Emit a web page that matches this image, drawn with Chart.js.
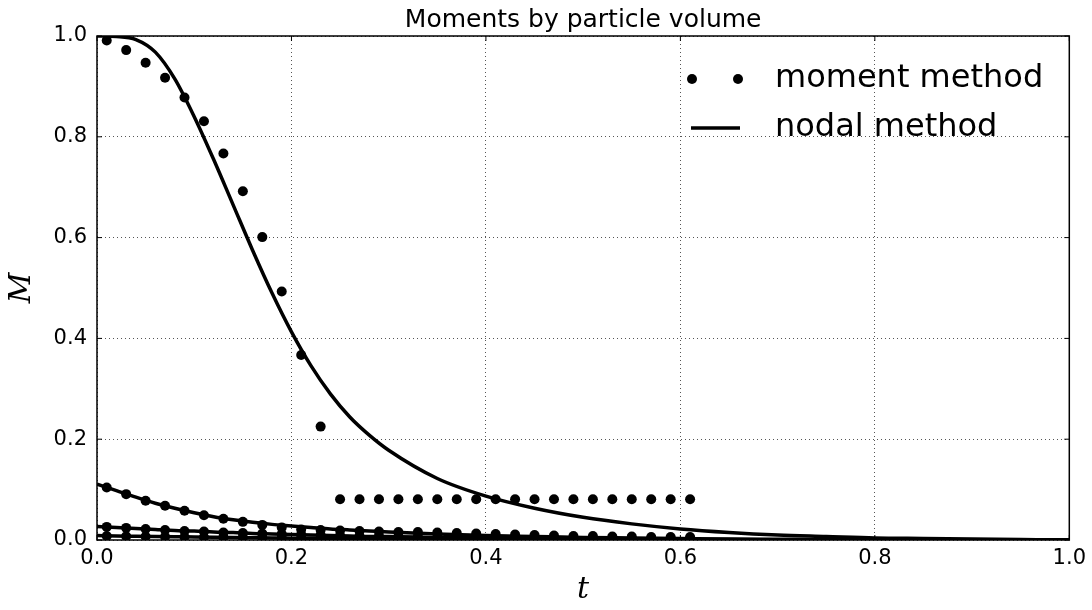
<!DOCTYPE html>
<html>
<head>
<meta charset="utf-8">
<script src="https://cdn.jsdelivr.net/npm/chart.js@4.4.0/dist/chart.umd.min.js"></script>
<style>
  html, body { margin: 0; padding: 0; background: #fff; }
  #wrap { width: 1092px; height: 610px; }
</style>
</head>
<body>
<div id="wrap"><canvas id="myChart" width="1092" height="610"></canvas></div>
<script>
// moment method samples
const tMoment = [0.01,0.03,0.05,0.07,0.09,0.11,0.13,0.15,0.17,0.19,0.21,0.23,0.25,0.27,0.29,0.31,
                 0.33,0.35,0.37,0.39,0.41,0.43,0.45,0.47,0.49,0.51,0.53,0.55,0.57,0.59,0.61];
const m0Moment = [0.991,0.972,0.947,0.917,0.878,0.831,0.767,0.692,0.601,0.493,0.367,0.225,0.081,0.081,0.081,0.081,
                  0.081,0.081,0.081,0.081,0.081,0.081,0.081,0.081,0.081,0.081,0.081,0.081,0.081,0.081,0.081];
const m1Moment = [0.104,0.091,0.078,0.068,0.058,0.049,0.042,0.036,0.030,0.025,0.021,0.020,0.019,0.018,0.017,0.016,
                  0.016,0.015,0.014,0.013,0.012,0.011,0.010,0.009,0.008,0.008,0.007,0.007,0.006,0.006,0.006];
const m2Moment = [0.026,0.024,0.022,0.020,0.018,0.017,0.015,0.014,0.013,0.012,0.011,0.010,0.009,0.008,0.008,0.007,
                  0.007,0.006,0.006,0.005,0.005,0.005,0.004,0.004,0.004,0.004,0.003,0.003,0.003,0.003,0.003];
const m3Moment = [0.008,0.0075,0.007,0.0065,0.006,0.0056,0.0052,0.0048,0.0044,0.004,0.0037,0.0034,0.0031,0.0028,0.0026,0.0024,
                  0.0022,0.002,0.0018,0.0016,0.0015,0.0014,0.0013,0.0012,0.0011,0.001,0.001,0.001,0.001,0.001,0.001];

// nodal method curves
const tNodal = [0,0.02,0.04,0.06,0.08,0.10,0.12,0.14,0.16,0.18,0.20,0.22,0.24,0.26,0.28,0.30,
                0.35,0.40,0.45,0.50,0.55,0.60,0.65,0.70,0.75,0.80,0.85,0.90,0.95,1.00];
const m0Nodal = [1.0,0.999,0.993,0.968,0.915,0.840,0.755,0.665,0.575,0.490,0.413,0.346,0.290,0.244,0.208,0.178,
                 0.122,0.087,0.063,0.045,0.032,0.022,0.015,0.010,0.007,0.004,0.003,0.002,0.001,0.0];
const m1Nodal = [0.111,0.098,0.085,0.073,0.063,0.054,0.046,0.040,0.035,0.031,0.028,0.025,0.022,0.020,0.018,0.016,
                 0.012,0.009,0.007,0.005,0.004,0.003,0.002,0.0015,0.001,0.0007,0.0005,0.0003,0.0001,0];
const m2Nodal = [0.027,0.025,0.023,0.021,0.019,0.018,0.016,0.015,0.013,0.012,0.011,0.010,0.009,0.008,0.007,0.007,
                 0.005,0.004,0.003,0.002,0.0015,0.001,0.0008,0.0006,0.0004,0.0003,0.0002,0.0001,0.0001,0];
const m3Nodal = [0.009,0.008,0.0075,0.007,0.0065,0.006,0.0055,0.005,0.0045,0.004,0.0037,0.0034,0.003,0.0027,0.0024,0.0022,
                 0.0017,0.0013,0.001,0.0008,0.0006,0.0004,0.0003,0.0002,0.0001,0.0001,0,0,0,0];

const xTicks = [0,0.2,0.4,0.6,0.8,1.0];
const yTicks = [0,0.2,0.4,0.6,0.8,1.0];

function pts(xs, ys){
    return xs.map((x,i) => ({x: x, y: ys[i]}));
}

function dots(ys){
    return {
        data: pts(tMoment, ys),
        showLine: false,
        pointRadius: 5,
        pointBackgroundColor: "#000",
        pointBorderWidth: 0,
        borderColor: "#000",
        clip: 0
    };
}
function curve(ys){
    return {
        data: pts(tNodal, ys),
        borderColor: "#000",
        borderWidth: 3.5,
        pointRadius: 0,
        cubicInterpolationMode: "monotone",
        clip: 0
    };
}

// frame, inward ticks, title and legend like matplotlib
const decor = {
    id: "decor",
    afterDraw(chart){
        const c = chart.ctx;
        const a = chart.chartArea;
        const xs = chart.scales.x, ys = chart.scales.y;
        c.save();
        c.strokeStyle = "#000";
        c.lineWidth = 1.5;
        c.strokeRect(a.left, a.top, a.right - a.left, a.bottom - a.top);
        c.lineWidth = 1;
        c.beginPath();
        xTicks.forEach(v => {
            const p = xs.getPixelForValue(v);
            c.moveTo(p, a.bottom); c.lineTo(p, a.bottom - 5);
            c.moveTo(p, a.top); c.lineTo(p, a.top + 5);
        });
        yTicks.forEach(v => {
            const p = ys.getPixelForValue(v);
            c.moveTo(a.left, p); c.lineTo(a.left + 5, p);
            c.moveTo(a.right, p); c.lineTo(a.right - 5, p);
        });
        c.stroke();

        c.fillStyle = "#000";
        c.textAlign = "center";
        c.textBaseline = "alphabetic";
        c.font = "25px 'DejaVu Sans'";
        c.fillText("Moments by particle volume", (a.left + a.right) / 2, 27);

        // legend
        c.beginPath(); c.arc(692, 79, 5, 0, Math.PI * 2); c.fill();
        c.beginPath(); c.arc(738, 79, 5, 0, Math.PI * 2); c.fill();
        c.lineWidth = 3.5;
        c.beginPath(); c.moveTo(691, 128); c.lineTo(740, 128); c.stroke();
        c.textAlign = "left";
        c.textBaseline = "middle";
        c.font = "32px 'DejaVu Sans'";
        c.fillText("moment method", 775, 79);
        c.fillText("nodal method", 775, 128);
        c.restore();
    }
};

const ctx = document.getElementById('myChart');
new Chart(ctx, {
    type: 'line',
    data: {
        datasets: [
            dots(m0Moment), dots(m1Moment), dots(m2Moment), dots(m3Moment),
            curve(m0Nodal), curve(m1Nodal), curve(m2Nodal), curve(m3Nodal)
        ]
    },
    options: {
        responsive: false,
        animation: false,
        layout: { padding: { top: 36, right: 21, left: 0, bottom: 0 } },
        plugins: { legend: { display: false }, tooltip: { enabled: false } },
        scales: {
            x: {
                type: 'linear',
                min: 0, max: 1,
                afterBuildTicks(s){ s.ticks = xTicks.map(v => ({value: v})); },
                afterFit(s){ s.height = 70; },
                ticks: {
                    color: "#000",
                    padding: 6,
                    font: { family: "DejaVu Sans", size: 21 },
                    callback: v => v.toFixed(1),
                    maxRotation: 0
                },
                grid: { color: "#555", lineWidth: 1, drawTicks: false },
                border: { display: false, dash: [1, 3] },
                title: {
                    display: true, text: "t", color: "#000",
                    font: { family: "DejaVu Serif", style: "italic", size: 30 },
                    padding: { top: 0, bottom: 2 }
                }
            },
            y: {
                type: 'linear',
                min: 0, max: 1,
                afterBuildTicks(s){ s.ticks = yTicks.map(v => ({value: v})); },
                afterFit(s){ s.width = 97; },
                ticks: {
                    color: "#000",
                    padding: 10,
                    font: { family: "DejaVu Sans", size: 21 },
                    callback: v => v.toFixed(1)
                },
                grid: { color: "#555", lineWidth: 1, drawTicks: false },
                border: { display: false, dash: [1, 3] },
                title: {
                    display: true, text: "M", color: "#000",
                    font: { family: "DejaVu Serif", style: "italic", size: 30 },
                    padding: { top: 4, bottom: 0 }
                }
            }
        }
    },
    plugins: [decor]
});
</script>
</body>
</html>
